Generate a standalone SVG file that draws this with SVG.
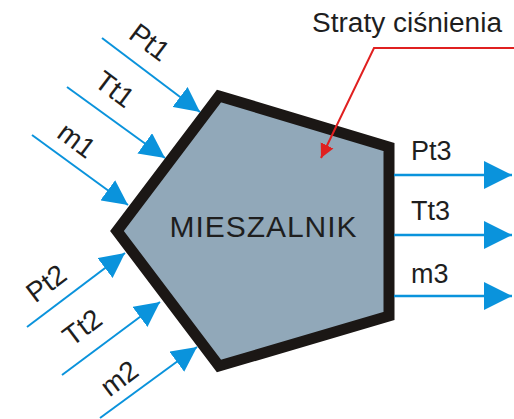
<svg xmlns="http://www.w3.org/2000/svg" width="514" height="419" viewBox="0 0 514 419">
  <style>
    .lbl { font-family: "Liberation Sans", Arial, sans-serif; fill: #1e1e1e; }
    .flow { stroke: #0a93dc; stroke-width: 2; fill: none; }
    .out { stroke: #0a93dc; stroke-width: 2.5; fill: none; }
  </style>
  <defs>
    <marker id="ah" viewBox="0 0 10 10" refX="10" refY="5" markerUnits="userSpaceOnUse" markerWidth="25" markerHeight="25" orient="auto">
      <path d="M0,0 L10,5 L0,10 z" fill="#0a93dc"/>
    </marker>
    <marker id="ahOut" viewBox="0 0 10 10" refX="10" refY="5" markerUnits="userSpaceOnUse" markerWidth="29" markerHeight="28" orient="auto">
      <path d="M0,0 L10,5 L0,10 z" fill="#0a93dc"/>
    </marker>
    <marker id="ahRed" viewBox="0 0 10 10" refX="10" refY="5" markerUnits="userSpaceOnUse" markerWidth="14" markerHeight="17" orient="auto">
      <path d="M0,0 L10,5 L0,10 z" fill="#e02020"/>
    </marker>
  </defs>
  <rect width="514" height="419" fill="#ffffff"/>

  <g id="mieszalnik">
    <polygon points="219,96 389,147 389,316 219,366 117,231" fill="#91a8b9" stroke="#1b1715" stroke-width="11" stroke-linejoin="miter"/>
    <text class="lbl" x="263" y="237" font-size="30" text-anchor="middle" textLength="187" lengthAdjust="spacing">MIESZALNIK</text>
  </g>

  <g id="connectors">
    <line class="flow" x1="102" y1="38" x2="200" y2="112" marker-end="url(#ah)"/>
    <line class="flow" x1="67" y1="87" x2="165" y2="158" marker-end="url(#ah)"/>
    <line class="flow" x1="32" y1="135" x2="128" y2="205" marker-end="url(#ah)"/>
    <line class="flow" x1="27" y1="327" x2="125" y2="253" marker-end="url(#ah)"/>
    <line class="flow" x1="62" y1="375" x2="160" y2="302" marker-end="url(#ah)"/>
    <line class="flow" x1="100" y1="418" x2="197" y2="347" marker-end="url(#ah)"/>
    <line class="out" x1="394" y1="175" x2="512" y2="175" marker-end="url(#ahOut)"/>
    <line class="out" x1="394" y1="235" x2="512" y2="235" marker-end="url(#ahOut)"/>
    <line class="out" x1="394" y1="296" x2="512" y2="296" marker-end="url(#ahOut)"/>
    <path d="M514,48 L374,48 L321,158" fill="none" stroke="#e02020" stroke-width="2" marker-end="url(#ahRed)"/>
  </g>

  <g id="labels-in">
    <text class="lbl" font-size="28" text-anchor="middle" transform="translate(150,42) rotate(37)" y="10">Pt1</text>
    <text class="lbl" font-size="28" text-anchor="middle" transform="translate(115,89) rotate(37)" y="10">Tt1</text>
    <text class="lbl" font-size="28" text-anchor="middle" transform="translate(77,140) rotate(37)" y="10">m1</text>
    <text class="lbl" font-size="28" text-anchor="middle" transform="translate(46,283) rotate(-37)" y="10">Pt2</text>
    <text class="lbl" font-size="28" text-anchor="middle" transform="translate(82,327) rotate(-37)" y="10">Tt2</text>
    <text class="lbl" font-size="28" text-anchor="middle" transform="translate(119,378) rotate(-37)" y="10">m2</text>
  </g>

  <g id="labels-out">
    <text class="lbl" x="411" y="160" font-size="27">Pt3</text>
    <text class="lbl" x="411" y="220" font-size="27">Tt3</text>
    <text class="lbl" x="411" y="283" font-size="27">m3</text>
  </g>

  <g id="straty">
    <text class="lbl" x="312" y="32" font-size="27" textLength="190" lengthAdjust="spacingAndGlyphs">Straty ciśnienia</text>
  </g>
</svg>
